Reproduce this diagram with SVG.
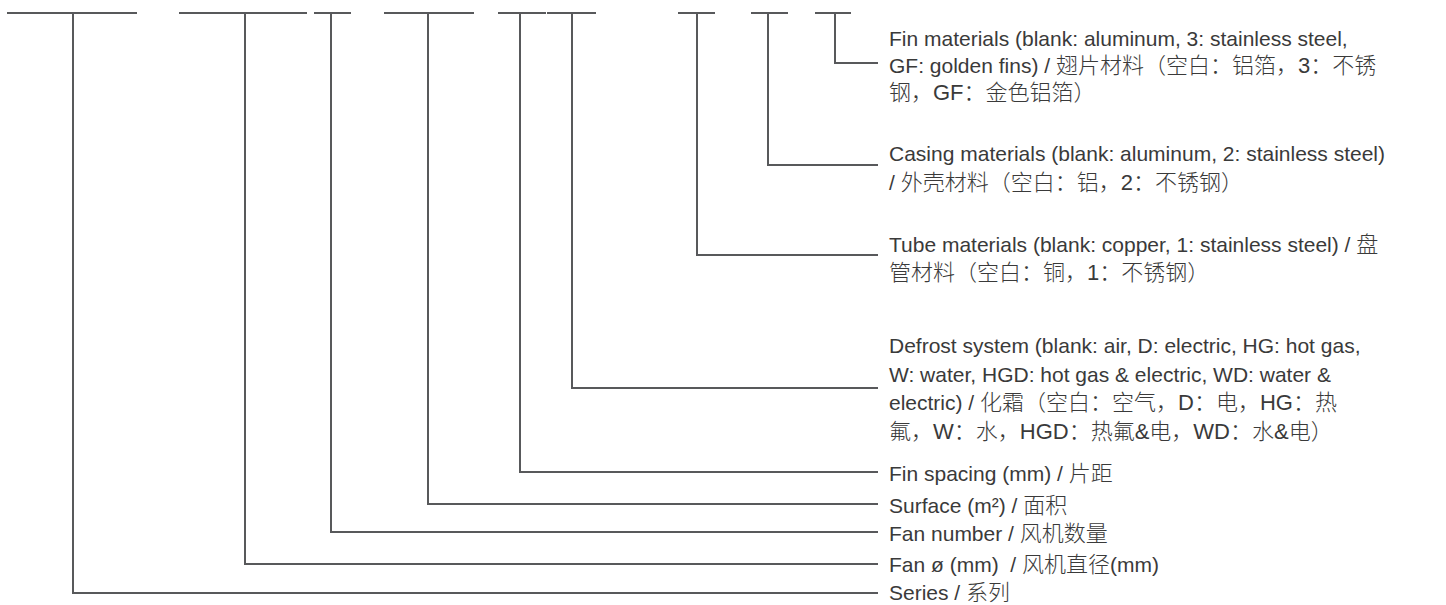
<svg xmlns="http://www.w3.org/2000/svg" width="1446" height="605" viewBox="0 0 1446 605">
<style>
.ln{fill:none;stroke:#58595b;stroke-width:2;stroke-linecap:butt;stroke-linejoin:miter}
.t{font-family:"Liberation Sans","Noto Sans CJK SC",sans-serif;font-size:21px;fill:#3a3a3a;font-weight:300}
.c{font-size:22px}
</style>
<rect width="1446" height="605" fill="#ffffff"/>
<g id="connectors">
<path class="ln" d="M7 13H137M179 13H307M314 13H351M384 13H474M498 13H546M547 13H596M678 13H715M751 13H788M815 13H851"/>
<path class="ln" d="M73 13V593H878"/>
<path class="ln" d="M245 13V564H878"/>
<path class="ln" d="M331 13V532H878"/>
<path class="ln" d="M428 13V504H878"/>
<path class="ln" d="M520 13V472H878"/>
<path class="ln" d="M572 13V388H878"/>
<path class="ln" d="M697 13V255H878"/>
<path class="ln" d="M768 13V165H878"/>
<path class="ln" d="M835 13V63H878"/>
</g>
<g id="fin-materials">
<text class="t" x="889" y="46">Fin materials (blank: aluminum, 3: stainless steel,</text>
<text class="t" x="889" y="73">GF: golden fins) / <tspan class="c">翅片材料（空白：铝箔，3：不锈</tspan></text>
<text class="t" x="889" y="100"><tspan class="c">钢，GF：金色铝箔）</tspan></text>
</g>
<g id="casing-materials">
<text class="t" x="889" y="161">Casing materials (blank: aluminum, 2: stainless steel)</text>
<text class="t" x="889" y="190">/ <tspan class="c">外壳材料（空白：铝，2：不锈钢）</tspan></text>
</g>
<g id="tube-materials">
<text class="t" x="889" y="252">Tube materials (blank: copper, 1: stainless steel) / <tspan class="c">盘</tspan></text>
<text class="t" x="889" y="280"><tspan class="c">管材料（空白：铜，1：不锈钢）</tspan></text>
</g>
<g id="defrost-system">
<text class="t" x="889" y="353">Defrost system (blank: air, D: electric, HG: hot gas,</text>
<text class="t" x="889" y="381.5">W: water, HGD: hot gas &amp; electric, WD: water &amp;</text>
<text class="t" x="889" y="410">electric) / <tspan class="c">化霜（空白：空气，D：电，HG：热</tspan></text>
<text class="t" x="889" y="438.5"><tspan class="c">氟，W：水，HGD：热氟&amp;电，WD：水&amp;电）</tspan></text>
</g>
<g id="fin-spacing"><text class="t" x="889" y="481">Fin spacing (mm) / <tspan class="c">片距</tspan></text></g>
<g id="surface"><text class="t" x="889" y="513">Surface (m²) / <tspan class="c">面积</tspan></text></g>
<g id="fan-number"><text class="t" x="889" y="541">Fan number / <tspan class="c">风机数量</tspan></text></g>
<g id="fan-diameter"><text class="t" x="889" y="572" xml:space="preserve">Fan ø (mm)  / <tspan class="c">风机直径</tspan>(mm)</text></g>
<g id="series"><text class="t" x="889" y="600">Series / <tspan class="c">系列</tspan></text></g>
</svg>
